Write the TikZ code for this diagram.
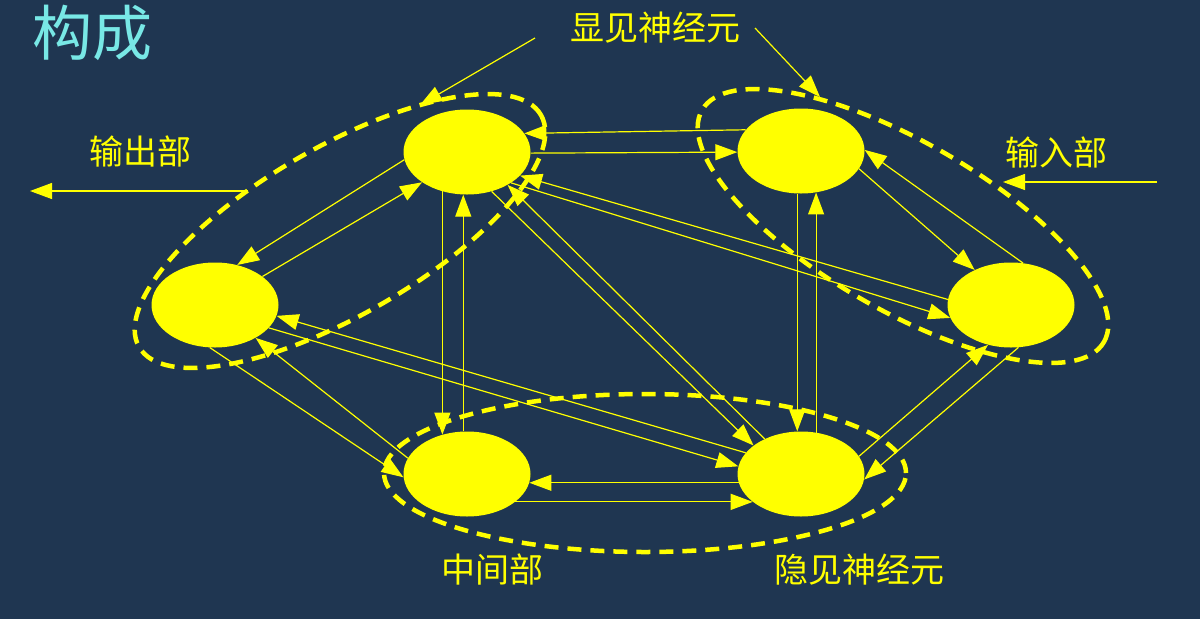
\documentclass[tikz,border=0pt]{standalone}
\usepackage{fontspec}
\newfontfamily\cjk{Noto Sans CJK SC}
\usetikzlibrary{shapes.geometric,arrows.meta}
\definecolor{bg}{RGB}{31,54,81}
\definecolor{ttl}{RGB}{120,232,230}
\definecolor{yel}{RGB}{255,255,0}
\begin{document}
\begin{tikzpicture}[x=1pt,y=1pt,
  neuron/.style={ellipse, fill=yel, minimum width=127pt, minimum height=85pt, inner sep=0pt},
  arr/.style={draw=yel, line width=1.2pt, -{Triangle[length=22pt,width=16pt]}},
  grp/.style={draw=yel, line width=4.5pt, dash pattern=on 14pt off 9pt},
  lbl/.style={text=yel, font=\cjk\fontsize{34}{40}\selectfont, inner sep=0pt}]
\fill[bg] (0,0) rectangle (1200,-619);
\useasboundingbox (0,0) rectangle (1200,-619);

% groups
\draw[grp, rotate around={30:(340,-231)}] (340,-231) ellipse [x radius=232, y radius=84];
\draw[grp, rotate around={-30:(903,-226)}] (903,-226) ellipse [x radius=232, y radius=84];
\draw[grp] (645,-473) ellipse [x radius=261, y radius=79];

% neurons
\node[neuron] (A) at (467,-152) {};
\node[neuron] (B) at (801,-151) {};
\node[neuron] (C) at (215,-305) {};
\node[neuron] (D) at (1011,-305) {};
\node[neuron] (E) at (467,-474) {};
\node[neuron] (F) at (801,-474) {};

% labels
\node[text=ttl, font=\cjk\fontsize{60}{70}\selectfont, inner sep=0pt] (title) at (92,-33) {构成};
\node[lbl] (vis) at (655,-28) {显见神经元};
\node[lbl] (out) at (140,-151) {输出部};
\node[lbl] (inp) at (1056,-152) {输入部};
\node[lbl] (mid) at (492,-570) {中间部};
\node[lbl] (hid) at (859,-570) {隐见神经元};

% pointers and IO
\coordinate (p1s) at (535,-38);
\coordinate (p1e) at (420,-105);
\coordinate (p2s) at (755,-28);
\coordinate (p2e) at (820,-97);
\coordinate (outS) at (248,-191);
\coordinate (outE) at (30,-191);
\coordinate (inS) at (1157,-182);
\coordinate (inE) at (1003,-182);
\draw[arr] (p1s) -- (p1e);
\draw[arr] (p2s) -- (p2e);
\draw[arr] (outS) -- (outE);
\draw[arr] (inS) -- (inE);

% connections
\draw[arr] (B.159) -- (A.18);
\draw[arr] (A.359) -- (B.181);
\draw[arr] (A.238) -- (E.122);
\draw[arr] (E.95) -- (A.265);
\draw[arr] (B.265) -- (F.95);
\draw[arr] (F.70) -- (B.290);
\draw[arr] (F.188) -- (E.352);
\draw[arr] (E.330) -- (F.210);
\draw[arr] (A.187) -- (C.61);
\draw[arr] (C.31) -- (A.214);
\draw[arr] (C.263) -- (E.183);
\draw[arr] (E.165) -- (C.321);
\draw[arr] (C.337) -- (F.173);
\draw[arr] (F.159) -- (C.350);
\draw[arr] (A.302) -- (F.149);
\draw[arr] (F.136) -- (A.321);
\draw[arr] (A.325) -- (D.192);
\draw[arr] (D.175) -- (A.336);
\draw[arr] (B.343) -- (D.136);
\draw[arr] (D.74) -- (B.1);
\draw[arr] (F.17) -- (D.240);
\draw[arr] (D.280) -- (F.355);
\end{tikzpicture}
\end{document}
